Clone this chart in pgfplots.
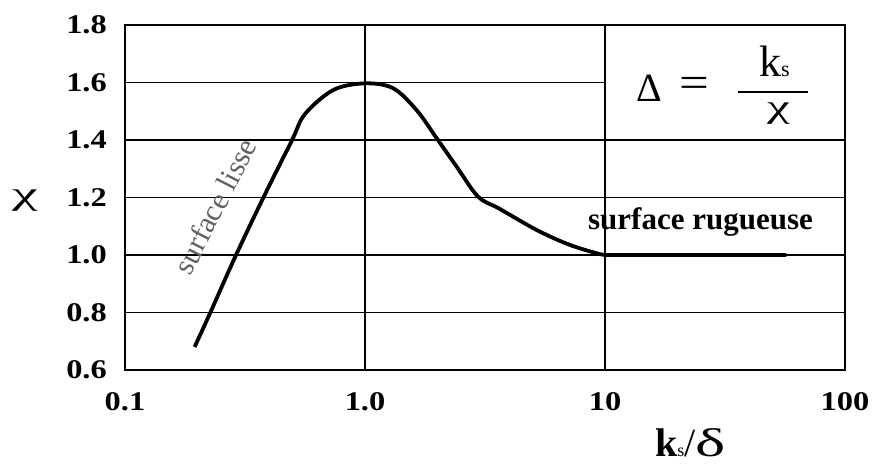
\documentclass[border=0pt]{standalone}
\usepackage{graphicx}
\usepackage{fontspec}
\setmainfont{Liberation Serif}
\usepackage{pgfplots}
\pgfplotsset{compat=1.18}
\begin{document}
\begin{tikzpicture}[x=1pt,y=1pt]
\useasboundingbox (0,0) rectangle (872,463);
\begin{axis}[
  at={(125pt,93pt)}, anchor=south west,
  scale only axis, width=720pt, height=345pt,
  xmode=log, xmin=0.1, xmax=100, ymin=0.6, ymax=1.8,
  xtick={0.1,1,10,100}, xticklabels={0.1,1.0,10,100},
  ytick={0.6,0.8,1.0,1.2,1.4,1.6,1.8},
  yticklabels={0.6,0.8,1.0,1.2,1.4,1.6,1.8},
  minor xtick={}, minor ytick={},
  major tick length=0pt, minor tick length=0pt,
  grid=major, grid style={black, line width=1.7pt},
  axis line style={black, line width=1.8pt},
  tick label style={font=\fontsize{27}{27}\selectfont\bfseries, xscale=1.2},
  yticklabel style={anchor=east, inner sep=0pt, xshift=-15pt},
  xticklabel style={anchor=north, inner sep=0pt, yshift=-22pt},
  clip=false,
]
\fill[white] ([xshift=1.2pt,yshift=1.2pt]axis cs:10,1.4) rectangle ([xshift=-1.2pt,yshift=-1.2pt]axis cs:100,1.8);
\addplot[black, line width=3.8pt, smooth, tension=0.55] coordinates {
  (0.195,0.68) (0.226,0.797) (0.288,0.994) (0.377,1.199) (0.495,1.397)
  (0.562,1.490) (0.738,1.574) (1.0,1.597) (1.31,1.58) (1.64,1.504)
  (1.99,1.406) (2.41,1.307) (2.96,1.203) (3.65,1.16) (5.19,1.087)
  (7.14,1.035) (9.5,1.003)
};
\addplot[black, line width=3.8pt] coordinates {(9.5,1.003) (10,1.0) (57,1.0)};
\node[font=\fontsize{31}{31}\selectfont\bfseries, inner sep=0pt] at (axis cs:25,1.115) {surface rugueuse};
\node[font=\fontsize{30}{30}\selectfont, text=black!62, rotate=63, inner sep=0pt] at (axis cs:0.237,1.17) {surface lisse};
\end{axis}
% formula
\node[font=\fontsize{40}{40}\selectfont, inner sep=0pt] at (649,374.5) {Δ};
\node[font=\fontsize{44}{44}\selectfont, inner sep=0pt, xscale=1.2] at (694,376) {=};
\draw[line width=1.5pt] (738,371) -- (808,371);
\node[font=\fontsize{44}{44}\selectfont, inner sep=0pt, anchor=base west] at (759,386) {k\fontsize{22}{22}\selectfont s};
\node[font=\fontsize{32}{32}\selectfont, inner sep=0pt, xscale=1.6] at (778.5,349) {χ};
% axis labels
\node[font=\fontsize{32}{32}\selectfont, inner sep=0pt, xscale=1.8] at (25,262) {χ};
\node[font=\fontsize{40}{40}\selectfont, inner sep=0pt, anchor=base west] at (655,7) {\textbf{k}{\fontsize{18}{18}\selectfont s}/\scalebox{1.6}[1]{δ}};
\end{tikzpicture}
\end{document}
